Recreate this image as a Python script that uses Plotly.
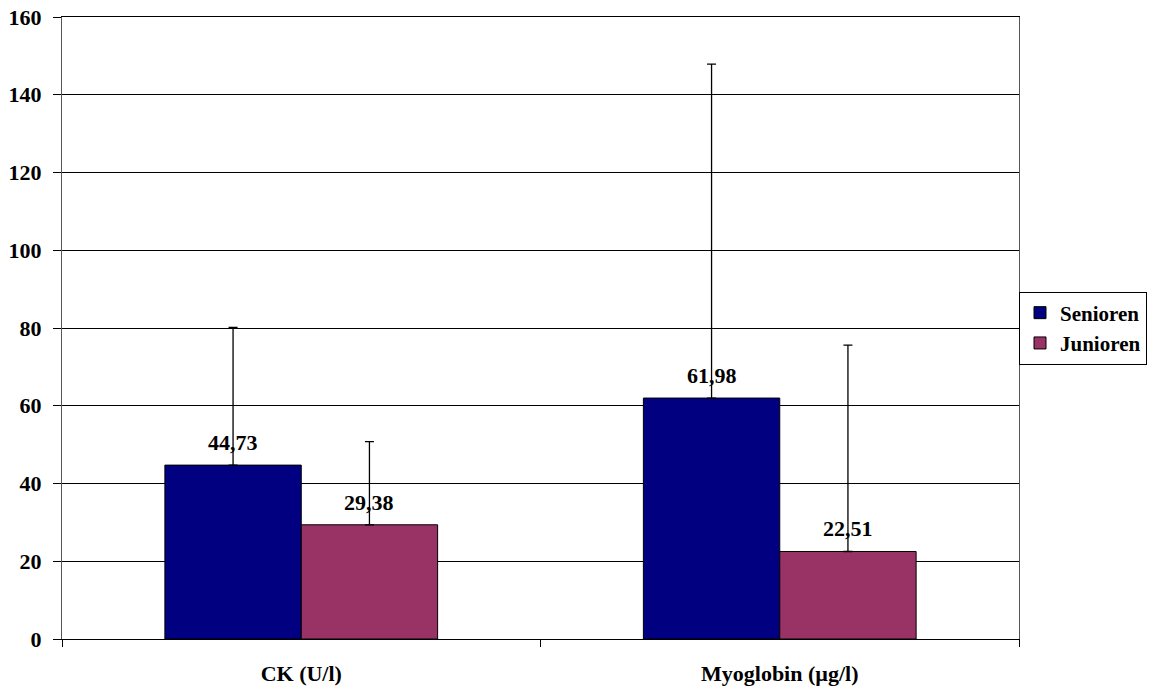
import plotly.graph_objects as go

categories = ["CK (U/l)", "Myoglobin (µg/l)"]
senioren = [44.73, 61.98]
junioren = [29.38, 22.51]
senioren_sd = [35.4, 85.9]
junioren_sd = [21.4, 53.1]
y_ticks = [0, 20, 40, 60, 80, 100, 120, 140, 160]

FONT = "Liberation Serif, Times New Roman, serif"
BARGAP = 0.43

series = [
    ("Senioren", senioren, senioren_sd, "#000080"),
    ("Junioren", junioren, junioren_sd, "#993366"),
]

fig = go.Figure()
for name, vals, sd, color in series:
    fig.add_trace(go.Bar(
        name=name, x=categories, y=vals,
        marker=dict(color=color, line=dict(color="black", width=1)),
        error_y=dict(type="data", symmetric=False, array=sd, arrayminus=[0] * len(sd),
                     color="black", thickness=1.3, width=4.5),
    ))

# value labels above each bar, placed via the axis scale
n = len(series)
bar_w = (1 - BARGAP) / n
for k, (name, vals, sd, color) in enumerate(series):
    off = -(1 - BARGAP) / 2 + bar_w * (k + 0.5)
    for i, v in enumerate(vals):
        fig.add_annotation(
            x=i + off, y=v, xref="x", yref="y",
            text=f"{v:.2f}".replace(".", ","),
            showarrow=False, xanchor="center", yanchor="bottom", yshift=8,
            font=dict(family=FONT, size=22, color="black", weight="bold"),
        )

fig.update_layout(
    width=1149, height=686,
    margin=dict(l=62, r=130, t=17, b=47, autoexpand=False),
    plot_bgcolor="white", paper_bgcolor="white",
    barmode="group", bargap=BARGAP, bargroupgap=0,
    font=dict(family=FONT, size=22, color="black", weight="bold"),
    showlegend=True,
    legend=dict(x=(1147 - 62) / 957, y=0.5, xanchor="right", yanchor="middle",
                bordercolor="black", borderwidth=1, bgcolor="white",
                font=dict(family=FONT, size=21, color="black", weight="bold"),
                itemwidth=30, tracegroupgap=0),
)
fig.update_xaxes(
    showline=True, linecolor="black", linewidth=1, mirror=True,
    ticks="outside", ticklen=7, tickcolor="black", tickson="boundaries",
    ticklabelstandoff=15, automargin=False,
    tickfont=dict(family=FONT, size=22, color="black", weight="bold"),
    showgrid=False,
)
fig.update_yaxes(
    range=[0, 160], tickvals=y_ticks,
    showline=True, linecolor="#555555", linewidth=1, mirror=True,
    ticks="outside", ticklen=8, tickcolor="black",
    ticklabelstandoff=7, automargin=False,
    showgrid=True, gridcolor="black", gridwidth=1,
    zeroline=False,
    tickfont=dict(family=FONT, size=22, color="black", weight="bold"),
)

fig.write_html("out.html", config={"displayModeBar": False},
               post_script="document.body.style.margin='0px';document.body.style.overflow='hidden';")
